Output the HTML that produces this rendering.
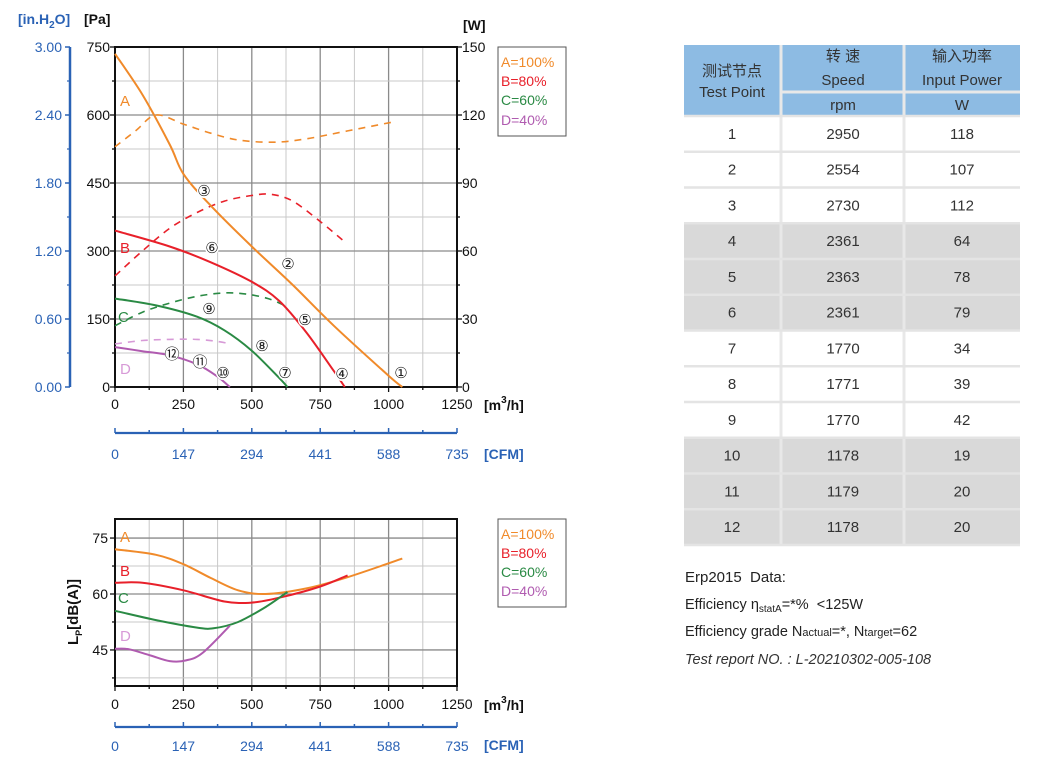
<!DOCTYPE html>
<html><head><meta charset="utf-8">
<style>
html,body{margin:0;padding:0;background:#fff;}
svg{display:block;font-family:"Liberation Sans","Noto Sans CJK SC",sans-serif;}
</style></head>
<body>
<svg id="s" width="1039" height="783" viewBox="0 0 1039 783" xmlns="http://www.w3.org/2000/svg">
<rect width="1039" height="783" fill="#fff"/>
<g id="g"></g>

<g font-size="14" font-weight="bold">
<text x="18" y="24" fill="#2a62b5">[in.H<tspan font-size="10" dy="4">2</tspan><tspan dy="-4">O]</tspan></text>
<text x="84" y="24" fill="#111">[Pa]</text>
<text x="463" y="30" fill="#111">[W]</text>
<text x="484" y="410" fill="#111">[m<tspan font-size="10" dy="-7">3</tspan><tspan dy="7">/h]</tspan></text>
<text x="484" y="459" fill="#2a62b5">[CFM]</text>
<text x="484" y="710" fill="#111">[m<tspan font-size="10" dy="-7">3</tspan><tspan dy="7">/h]</tspan></text>
<text x="484" y="750" fill="#2a62b5">[CFM]</text>
</g>
<text transform="translate(78,645) rotate(-90)" font-size="15" font-weight="bold" fill="#111">L<tspan font-size="9" dy="4">P</tspan><tspan dy="-4">[dB(A)]</tspan></text>

<g font-size="14">
<rect x="498" y="47" width="68" height="89" fill="#fff" stroke="#555" stroke-width="1"/>
<text x="501" y="67" fill="#f08a2a">A=100%</text>
<text x="501" y="86" fill="#e8202a">B=80%</text>
<text x="501" y="105" fill="#2a8a44">C=60%</text>
<text x="501" y="125" fill="#b05bb0">D=40%</text>
<rect x="498" y="519" width="68" height="88" fill="#fff" stroke="#555" stroke-width="1"/>
<text x="501" y="539" fill="#f08a2a">A=100%</text>
<text x="501" y="558" fill="#e8202a">B=80%</text>
<text x="501" y="577" fill="#2a8a44">C=60%</text>
<text x="501" y="596" fill="#b05bb0">D=40%</text>
</g>

<g id="tbl" font-size="15" fill="#333" text-anchor="middle"></g>

<g font-size="15" fill="#222">
<text x="685" y="582">Erp2015&#160;&#160;Data:</text>
<text x="685" y="609" font-size="14.5">Efficiency η<tspan font-size="10" dy="3">statA</tspan><tspan dy="-3">=*%&#160;&#160;&lt;125W</tspan></text>
<text x="685" y="636" font-size="14.5">Efficiency grade N<tspan font-size="11">actual</tspan>=*, N<tspan font-size="11">target</tspan>=62</text>
<text x="685" y="664" font-size="14.5" font-style="italic" fill="#333">Test report NO. : L-20210302-005-108</text>
</g>
</svg>
<script>
var NS="http://www.w3.org/2000/svg",g=document.getElementById("g"),tb=document.getElementById("tbl");
function el(t,a,p,txt){var e=document.createElementNS(NS,t);for(var k in a)e.setAttribute(k,a[k]);if(txt!==undefined)e.textContent=txt;(p||g).appendChild(e);return e;}
function line(x1,y1,x2,y2,c,w,par){el("line",{x1:x1,y1:y1,x2:x2,y2:y2,stroke:c,"stroke-width":w},par);}
function txt(x,y,s,a){var o={x:x,y:y,"font-size":14,fill:"#111"};for(var k in a||{})o[k]=a[k];el("text",o,null,s);}
function smooth(pts){var d="M"+pts[0][0].toFixed(1)+","+pts[0][1].toFixed(1);for(var i=0;i<pts.length-1;i++){var p0=pts[i-1]||pts[i],p1=pts[i],p2=pts[i+1],p3=pts[i+2]||p2;
d+=" C"+(p1[0]+(p2[0]-p0[0])/6).toFixed(1)+","+(p1[1]+(p2[1]-p0[1])/6).toFixed(1)+" "+(p2[0]-(p3[0]-p1[0])/6).toFixed(1)+","+(p2[1]-(p3[1]-p1[1])/6).toFixed(1)+" "+p2[0].toFixed(1)+","+p2[1].toFixed(1);}return d;}
var X=function(q){return 115+q*0.2736;};
var T=47,B=387,L=115,R=457;
var Yp=function(p){return 387-p*0.4533;};
for(var i=0;i<=10;i++){var x=L+i*(R-L)/10;line(x,T,x,B,i%2?"#c8c8c8":"#8a8a8a",i%2?1:1.3);}
for(var i=0;i<=10;i++){var y=B-i*(B-T)/10;line(L,y,R,y,i%2?"#c8c8c8":"#8a8a8a",i%2?1:1.3);}
el("rect",{x:L,y:T,width:R-L,height:B-T,fill:"none",stroke:"#111","stroke-width":2});
for(var i=0;i<=10;i++){var x=L+i*(R-L)/10;line(x,B,x,B+(i%2?3:5),"#111",1.3);var y=B-i*(B-T)/10;line(L-(i%2?3:5),y,L,y,"#111",1.3);line(R,y,R+(i%2?3:5),y,"#111",1.3);}
var pl=["0","150","300","450","600","750"],wl=["0","30","60","90","120","150"],il=["0.00","0.60","1.20","1.80","2.40","3.00"];
for(var i=0;i<6;i++){var y=B-i*68;txt(L-5,y+5,pl[i],{"text-anchor":"end"});txt(R+5,y+5,wl[i]);txt(62,y+5,il[i],{"text-anchor":"end",fill:"#2a62b5"});line(65,y,70,y,"#2a62b5",1.5);if(i<5)line(67,y-34,70,y-34,"#2a62b5",1.2);}
line(70,T,70,B,"#2a62b5",2.5);
var xl=["0","250","500","750","1000","1250"],cl=["0","147","294","441","588","735"];
function cfm(yl,yt){line(L,yl,R,yl,"#2a62b5",2.2);for(var i=0;i<=10;i++){var x=L+i*(R-L)/10;line(x,yl,x,yl-(i%2?3:5),"#2a62b5",1.5);}for(var i=0;i<6;i++)txt(L+i*68.4,yt,cl[i],{"text-anchor":"middle",fill:"#2a62b5"});}
for(var i=0;i<6;i++)txt(L+i*68.4,409,xl[i],{"text-anchor":"middle"});
cfm(433,459);
function curve(pts,Yf,c,dash,w){var p=pts.map(function(a){return[X(a[0]),Yf(a[1])];});var o={d:smooth(p),fill:"none",stroke:c,"stroke-width":w||2};if(dash)o["stroke-dasharray"]="7,6";el("path",o);}
var O="#f08a2a",Rd="#e8202a",G="#2a8a44",P="#b05bb0",Pl="#d79ad7";
var W=function(w){return Yp(w*5);};
curve([[0,106],[75,113],[150,120],[250,116],[350,112],[450,109],[580,108],[700,109.5],[850,113],[1020,117]],W,O,1,1.6);
curve([[0,49],[100,60],[200,70],[300,77],[400,82],[500,84.5],[570,85],[650,82],[750,73],[840,64]],W,Rd,1,1.6);
curve([[0,27],[100,33],[200,37],[300,40],[400,41.5],[480,41],[560,39],[620,36]],W,G,1,1.6);
curve([[0,19],[100,20.5],[200,21],[300,21],[380,20],[420,19]],W,Pl,1,1.6);
curve([[0,735],[100,645],[200,535],[250,470],[350,400],[500,310],[650,225],[800,135],[1000,25],[1050,0]],Yp,O);
curve([[0,345],[200,310],[350,275],[500,232],[600,190],[700,120],[800,35],[840,0]],Yp,Rd);
curve([[0,195],[150,180],[300,155],[400,125],[500,80],[600,20],[630,0]],Yp,G);
curve([[0,88],[100,79],[200,70],[300,50],[370,25],[420,0]],Yp,P);
txt(120,106,"A",{fill:O,"font-size":15});txt(120,253,"B",{fill:Rd,"font-size":15});txt(118,322,"C",{fill:G,"font-size":15});txt(120,374,"D",{fill:Pl,"font-size":15});
var circ=[["③",204,196],["②",288,269],["⑥",212,253],["⑤",305,325],["④",342,379],["①",401,378],["⑨",209,314],["⑧",262,351],["⑦",285,378],["⑫",172,359],["⑪",200,367],["⑩",223,378]];
circ.forEach(function(c){el("circle",{cx:c[1],cy:c[2]-5,r:7,fill:"#fff"});txt(c[1],c[2],c[0],{"text-anchor":"middle","font-size":15,"font-family":"DejaVu Sans, sans-serif",fill:"#222"});});
var T2=519,B2=686;var Yd=function(d){return 594-(d-60)*3.73;};
for(var i=0;i<=10;i++){var x=L+i*(R-L)/10;line(x,T2,x,B2,i%2?"#c8c8c8":"#8a8a8a",i%2?1:1.3);}
[37.5,52.5,67.5].forEach(function(d){line(L,Yd(d),R,Yd(d),"#c8c8c8",1);});
[45,60,75].forEach(function(d){line(L,Yd(d),R,Yd(d),"#8a8a8a",1.3);txt(L-7,Yd(d)+5,""+d,{"text-anchor":"end"});line(L-5,Yd(d),L,Yd(d),"#111",1.3);});
[37.5,52.5,67.5].forEach(function(d){line(L-3,Yd(d),L,Yd(d),"#111",1.3);});
el("rect",{x:L,y:T2,width:R-L,height:B2-T2,fill:"none",stroke:"#111","stroke-width":2});
for(var i=0;i<=10;i++){var x=L+i*(R-L)/10;line(x,B2,x,B2+(i%2?3:5),"#111",1.3);}
for(var i=0;i<6;i++)txt(L+i*68.4,709,xl[i],{"text-anchor":"middle"});
cfm(727,751);
curve([[0,72],[150,70.5],[250,68],[350,64.3],[450,61],[550,60],[700,61.5],[850,64.5],[1050,69.5]],Yd,O);
curve([[0,63],[100,63],[250,61],[400,58],[500,57.7],[600,59],[750,62],[850,65]],Yd,Rd);
curve([[0,55.5],[150,53],[300,51],[360,50.8],[450,52.5],[550,56.5],[630,60.5]],Yd,G);
curve([[0,45.3],[50,45.2],[130,43.5],[200,42],[260,42.2],[320,44.2],[420,51.5]],Yd,P);
txt(120,542,"A",{fill:O,"font-size":15});txt(120,576,"B",{fill:Rd,"font-size":15});txt(118,603,"C",{fill:G,"font-size":15});txt(120,641,"D",{fill:Pl,"font-size":15});
// table
function tt(x,y,s){el("text",{x:x,y:y},tb,s);}
var rh=(545-116)/12;
var data=[[2950,118],[2554,107],[2730,112],[2361,64],[2363,78],[2361,79],[1770,34],[1771,39],[1770,42],[1178,19],[1179,20],[1178,20]];
el("rect",{x:684,y:45,width:336,height:71,fill:"#8dbbe3"},tb);
data.forEach(function(d,i){var y=116+i*rh;var gray=(i>=3&&i<=5)||(i>=9);el("rect",{x:684,y:y,width:336,height:rh,fill:gray?"#d9d9d9":"#fff"},tb);});
line(781,45,781,545,"#e8e8e8",3,tb);line(904,45,904,545,"#e8e8e8",3,tb);line(782,92,1020,92,"#e8e8e8",3,tb);
for(var i=0;i<=12;i++){var y=116+i*rh;line(684,y,1020,y,"#e4e4e4",2.5,tb);}
tt(732,76,"测试节点");tt(732,97,"Test Point");
tt(843,61,"转 速");tt(843,85,"Speed");tt(843,110,"rpm");
tt(962,61,"输入功率");tt(962,85,"Input Power");tt(962,110,"W");
data.forEach(function(d,i){var y=116+i*rh+rh/2+5;tt(732,y,""+(i+1));tt(843,y,""+d[0]);tt(962,y,""+d[1]);});
</script>
</body></html>
